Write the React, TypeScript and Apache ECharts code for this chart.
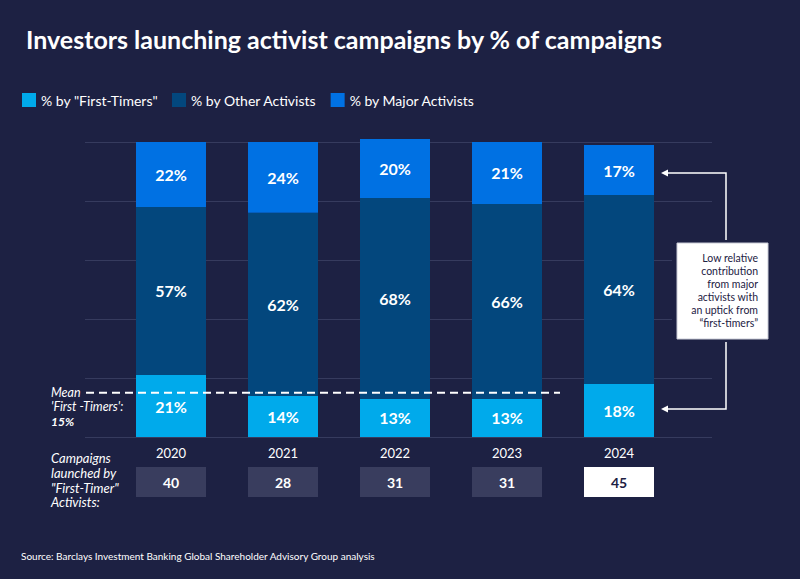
import React, { useEffect, useRef } from "react";
import * as echarts from "echarts";

const years = ["2020", "2021", "2022", "2023", "2024"];
const firstTimers = [21, 14, 13, 13, 18];
const otherActivists = [57, 62, 68, 66, 64];
const majorActivists = [22, 24, 20, 21, 17];
const campaignsByFirstTimers = ["40", "28", "31", "31", "45"];
const meanFirstTimers = 15;
const yTicks = { min: 0, max: 100, interval: 20 };

const BG = "#1d2143";
const FONT = "Lato, 'Open Sans', sans-serif";

export default function App() {
  const ref = useRef<HTMLDivElement>(null);

  useEffect(() => {
    document.body.style.margin = "0";
    const chart = echarts.init(ref.current!, undefined, { renderer: "svg" });
    const barLabel = {
      show: true,
      position: "inside",
      formatter: "{c}%",
      color: "#ffffff",
      fontWeight: "bold",
      fontSize: 16,
      fontFamily: FONT,
    };
    const option: any = {
      animation: false,
      backgroundColor: BG,
      textStyle: { fontFamily: FONT },
      title: {
        text: "Investors launching activist campaigns by % of campaigns",
        left: 21,
        top: 21,
        textStyle: { color: "#ffffff", fontSize: 25, fontWeight: "bold", fontFamily: FONT },
      },
      legend: {
        left: 22,
        top: 93,
        padding: 0,
        itemWidth: 14,
        itemHeight: 14,
        itemGap: 14,
        icon: "rect",
        textStyle: { color: "#ffffff", fontSize: 14, fontFamily: FONT },
        data: ['% by "First-Timers"', "% by Other Activists", "% by Major Activists"],
      },
      grid: [
        { left: 115, right: 125, top: 142, bottom: 142 },
        { left: 85, right: 88, top: 142, bottom: 142 },
        { left: 86, right: 240, top: 142, bottom: 142 },
      ],
      xAxis: [
        {
          type: "category",
          gridIndex: 0,
          data: years,
          axisLine: { show: false },
          axisTick: { show: false },
          axisLabel: { color: "#ffffff", fontSize: 13, margin: 9, fontFamily: FONT },
        },
        {
          type: "category",
          gridIndex: 0,
          position: "bottom",
          offset: 22,
          data: campaignsByFirstTimers,
          axisLine: { show: false },
          axisTick: { show: false },
          axisLabel: {
            margin: 8,
            formatter: (v: string, i: number) => (i === 4 ? `{w|${v}}` : `{d|${v}}`),
            rich: {
              d: {
                width: 70,
                height: 30,
                lineHeight: 30,
                align: "center",
                backgroundColor: "#393d5e",
                color: "#ffffff",
                fontWeight: "bold",
                fontSize: 14,
                fontFamily: FONT,
              },
              w: {
                width: 70,
                height: 30,
                lineHeight: 30,
                align: "center",
                backgroundColor: "#ffffff",
                color: BG,
                fontWeight: "bold",
                fontSize: 14,
                fontFamily: FONT,
              },
            },
          },
        },
        { type: "category", gridIndex: 1, show: false, data: years },
        { type: "category", gridIndex: 2, show: false, boundaryGap: false, data: ["start", "end"] },
      ],
      yAxis: [
        { type: "value", gridIndex: 0, ...yTicks, show: false, splitLine: { show: false } },
        {
          type: "value",
          gridIndex: 1,
          ...yTicks,
          z: 0,
          axisLabel: { show: false },
          axisLine: { show: false },
          axisTick: { show: false },
          splitLine: { show: true, lineStyle: { color: "#363b5e", width: 1 } },
        },
        { type: "value", gridIndex: 2, ...yTicks, show: false, splitLine: { show: false } },
      ],
      series: [
        {
          name: '% by "First-Timers"',
          type: "bar",
          stack: "total",
          xAxisIndex: 0,
          yAxisIndex: 0,
          barWidth: 70,
          clip: false,
          data: firstTimers,
          itemStyle: { color: "#00aaeb" },
          label: barLabel,
        },
        {
          name: "% by Other Activists",
          type: "bar",
          stack: "total",
          xAxisIndex: 0,
          yAxisIndex: 0,
          barWidth: 70,
          clip: false,
          data: otherActivists,
          itemStyle: { color: "#03477d" },
          label: barLabel,
        },
        {
          name: "% by Major Activists",
          type: "bar",
          stack: "total",
          xAxisIndex: 0,
          yAxisIndex: 0,
          barWidth: 70,
          clip: false,
          data: majorActivists,
          itemStyle: { color: "#0071e3" },
          label: barLabel,
        },
        {
          name: "mean",
          type: "line",
          xAxisIndex: 3,
          yAxisIndex: 2,
          data: [meanFirstTimers, meanFirstTimers],
          symbol: "none",
          silent: true,
          z: 10,
          lineStyle: { color: "#ffffff", width: 2, type: [8, 5] },
        },
      ],
      graphic: [
        {
          type: "text",
          left: 51,
          top: 386,
          z: 100,
          style: {
            text: "{a|Mean}\n{a|'First -Timers':}\n{b|15%}",
            fill: "#ffffff",
            rich: {
              a: { fill: "#ffffff", fontStyle: "italic", fontSize: 12.5, fontFamily: FONT, lineHeight: 14.3 },
              b: { fill: "#ffffff", fontStyle: "italic", fontWeight: "bold", fontSize: 12, fontFamily: FONT, lineHeight: 14.3 },
            },
          },
        },
        {
          type: "text",
          left: 51,
          top: 451,
          z: 100,
          style: {
            text: 'Campaigns\nlaunched by\n"First-Timer"\nActivists:',
            fill: "#ffffff",
            font: `italic 13px ${FONT}`,
            lineHeight: 14.7,
          },
        },
        {
          type: "polyline",
          z: 100,
          shape: { points: [[665, 173], [726, 173], [726, 409], [665, 409]] },
          style: { stroke: "#ffffff", lineWidth: 1.5, fill: "none" },
        },
        {
          type: "polygon",
          z: 100,
          shape: { points: [[661, 173], [668, 169.5], [668, 176.5]] },
          style: { fill: "#ffffff" },
        },
        {
          type: "polygon",
          z: 100,
          shape: { points: [[661, 409], [668, 405.5], [668, 412.5]] },
          style: { fill: "#ffffff" },
        },
        {
          type: "rect",
          z: 101,
          shape: { x: 672, y: 240, width: 100, height: 102 },
          style: { fill: BG },
        },
        {
          type: "rect",
          z: 102,
          shape: { x: 677, y: 243, width: 91, height: 96 },
          style: { fill: "#ffffff", stroke: "#c9cbd6", lineWidth: 1 },
        },
        {
          type: "text",
          z: 103,
          x: 758,
          y: 251,
          style: {
            text: "Low relative\ncontribution\nfrom major\nactivists with\nan uptick from\n\u201cfirst-timers\u201d",
            fill: BG,
            font: `10.5px ${FONT}`,
            align: "right",
            verticalAlign: "top",
            lineHeight: 13,
          },
        },
        {
          type: "text",
          left: 21,
          top: 551,
          z: 100,
          style: {
            text: "Source: Barclays Investment Banking Global Shareholder Advisory Group analysis",
            fill: "#ffffff",
            font: `10px ${FONT}`,
          },
        },
      ],
    };
    chart.setOption(option);
    return () => chart.dispose();
  }, []);

  return <div ref={ref} style={{ width: 800, height: 579, background: BG }} />;
}
